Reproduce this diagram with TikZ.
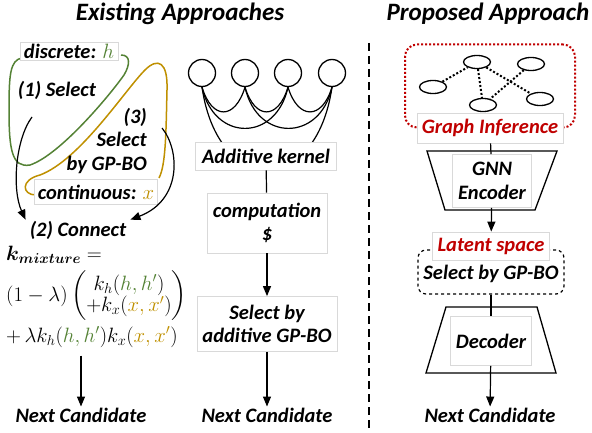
\documentclass[tikz,border=0pt]{standalone}
\usepackage{fontspec}
\setmainfont{Carlito}
\usepackage{amsmath,bm}
\usetikzlibrary{positioning,arrows.meta,shapes.geometric}
\definecolor{grn}{HTML}{548235}
\definecolor{gld}{HTML}{BF9000}
\definecolor{dred}{HTML}{C00000}
\tikzset{%
  lbl/.style={font=\bfseries\itshape\fontsize{20.5}{23.5}\selectfont,align=center,inner sep=1pt},
  ttl/.style={font=\bfseries\itshape\fontsize{25}{28}\selectfont},
  gbox/.style={lbl,draw=black!15,fill=white,line width=.8pt},
  fml/.style={font=\fontsize{20}{22}\selectfont,anchor=west,inner sep=0pt},
  arr/.style={-{Triangle[length=10pt,width=8pt]},line width=1.2pt},
  conn/.style={line width=1.2pt},
  loopg/.style={draw=grn,line width=1.5pt},
  loopy/.style={draw=gld,line width=1.5pt},
  kn/.style={circle,draw,line width=1.3pt,minimum size=27,inner sep=0},
  gn/.style={ellipse,draw,line width=1.3pt,minimum width=27,minimum height=13,inner sep=0},
  ge/.style={line width=2pt,dash pattern=on 2pt off 2pt},
  trap/.style={draw,line width=1.3pt}
}

\begin{document}
\begin{tikzpicture}[x=1pt,y=-1pt]
  \useasboundingbox (0,0) rectangle (592,433);
  \node[ttl] (t1) at (180,14) {Existing Approaches};
  \node[ttl] (t2) at (488,14) {Proposed Approach};
  \coordinate (d1) at (369,43);
  \coordinate (d2) at (369,433);
  \draw[line width=2pt,dash pattern=on 8pt off 5pt] (d1) -- (d2);

  \draw[loopg] (22,58) .. controls (10,60) and (9,75) .. (9,110)
    .. controls (9,150) and (12,168) .. (30,165)
    .. controls (60,155) and (110,95) .. (124,75)
    .. controls (130,65) and (131,55) .. (121,55);
  \draw[loopy] (36,195) .. controls (22,195) and (20,180) .. (40,175)
    .. controls (80,160) and (125,90) .. (145,70)
    .. controls (158,57) and (168,62) .. (167,90)
    .. controls (166,130) and (166,165) .. (159,178);
  \node[gbox,minimum width=98,minimum height=18,inner sep=0pt] (dh) at (69,51) {discrete: $\color{grn}h$};
  \node[gbox,minimum width=123,minimum height=25,inner sep=0pt] (cx) at (96,192) {continuous: $\color{gld}x$};
  \node[lbl] (s1) at (57,90) {(1) Select};
  \node[lbl,align=right,anchor=east] (s3) at (148,141) {(3)\\Select\\by GP-BO};
  \node[lbl] (cn) at (78,230) {(2) Connect};
  \coordinate (a1) at (32,117);
  \coordinate (a3) at (162,128);
  \draw[arr] (a1) .. controls (15,140) and (12,190) .. ([xshift=-3]cn.north west);
  \draw[arr] (a3) .. controls (180,150) and (182,200) .. ([xshift=3]cn.north east);
  \node[fml] (f1) at (6,255) {$\bm{k_{mixture}} =$};
  \node[fml] (f2) at (6,296) {\renewcommand{\arraystretch}{0.85}$(1-\lambda)\begin{pmatrix} k_h({\color{grn}h,h'})\\ +k_x({\color{gld}x,x'})\end{pmatrix}$};
  \node[fml] (f3) at (6,337) {$+\,\lambda k_h({\color{grn}h,h'})k_x({\color{gld}x,x'})$};
  \node[lbl] (n1) at (81,415) {Next Candidate};
  \draw[arr] ([yshift=-8]f3.south -| n1.north) -- (n1.north);

  \node[kn] (c1) at (202,73) {};
  \node[kn] (c2) at (245,73) {};
  \node[kn] (c3) at (288,73) {};
  \node[kn] (c4) at (332,73) {};
  \draw[conn] (c1.south) .. controls +(10,33) and +(-10,33) .. (c2.south);
  \draw[conn] (c2.south) .. controls +(10,33) and +(-10,33) .. (c3.south);
  \draw[conn] (c3.south) .. controls +(10,33) and +(-10,33) .. (c4.south);
  \draw[conn] (c1.south) .. controls +(12,55) and +(-12,55) .. (c3.south);
  \draw[conn] (c2.south) .. controls +(12,55) and +(-12,55) .. (c4.south);
  \draw[conn] (c1.south) .. controls +(16,110) and +(-16,110) .. (c4.south);
  \node[gbox,minimum width=141,minimum height=28] (ak) at (266,156) {Additive kernel};
  \node[gbox,minimum width=120,minimum height=60] (cp) at (267,223) {computation\\\$};
  \node[gbox,minimum width=140,minimum height=55] (sa) at (267,324) {Select by\\additive GP-BO};
  \node[lbl] (n2) at (267,415) {Next Candidate};
  \draw[conn] (ak) -- (cp);
  \draw[arr] (cp) -- (sa);
  \draw[arr] (sa) -- (n2);

  \node[draw=dred,ge,rounded corners=12,minimum width=170,minimum height=83] (gr) at (490,86) {};
  \node[gn] (e1) at (477,62) {};
  \node[gn] (e2) at (531,64) {};
  \node[gn] (e3) at (433,87) {};
  \node[gn] (e4) at (540,99) {};
  \node[gn] (e5) at (483,105) {};
  \draw[ge] (e3) -- (e1);
  \draw[ge] (e1) -- (e5);
  \draw[ge] (e1) -- (e4);
  \draw[ge] (e2) -- (e5);
  \node[gbox,text=dred,minimum width=146,minimum height=30] (gi) at (490,128) {Graph Inference};
  \draw[trap,fill=white] (427,151) -- (557,151) -- (535,210) -- (445,210) -- cycle;
  \node[gbox,minimum width=79,minimum height=53] (en) at (492,181) {GNN\\Encoder};
  \draw[conn] (gi) -- (en);
  \node[lbl,draw,dashed,line width=1.2pt,rounded corners=8,minimum width=146,minimum height=44,text depth=2pt] (sg) at (491,272) {};
  \node[lbl] (sgt) at (491,274) {Select by GP-BO};
  \node[gbox,text=dred,minimum width=117,minimum height=28] (ls) at (491,246) {Latent space};
  \draw[arr] (en) -- (ls);
  \draw[trap,fill=white] (446,307) -- (537,307) -- (556,373) -- (426,373) -- cycle;
  \node[gbox,minimum width=81,minimum height=49] (de) at (491,341) {Decoder};
  \draw[conn] (sg) -- (de);
  \node[lbl] (n3) at (490,415) {Next Candidate};
  \draw[arr] (de) -- (n3);
\end{tikzpicture}
\end{document}
